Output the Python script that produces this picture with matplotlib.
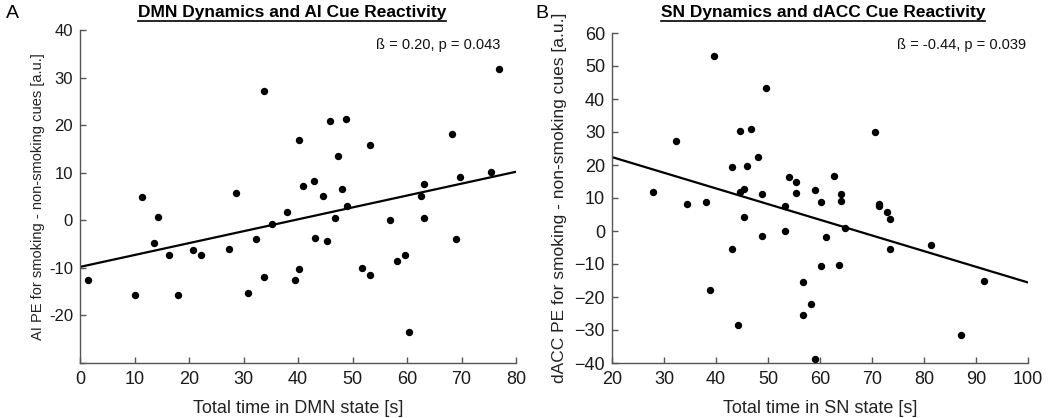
import matplotlib
matplotlib.use("Agg")
import matplotlib.pyplot as plt
from matplotlib.lines import Line2D
import numpy as np

plt.rcParams['font.family'] = ['Liberation Sans', 'DejaVu Sans']

# ---------------- data ----------------
dmn_time = [1.4, 10.0, 11.3, 13.6, 14.3, 16.4, 17.9, 20.7, 22.2, 27.3, 28.7, 30.8,
            32.3, 33.7, 33.7, 35.2, 38.0, 39.5, 40.1, 40.1, 40.9, 43.0, 43.1, 44.5,
            45.3, 45.9, 46.7, 47.4, 48.1, 48.8, 48.9, 51.7, 53.2, 53.2, 56.8, 58.2,
            59.7, 60.4, 62.5, 63.2, 63.2, 68.3, 69.0, 69.7, 75.4, 76.9]
ai_pe = [-12.5, -15.7, 4.8, -4.7, 0.6, -7.4, -15.7, -6.2, -7.2, -6.0, 5.7, -15.2,
         -4.0, -12.0, 27.1, -0.8, 1.7, -12.6, -10.3, 16.8, 7.3, 8.3, -3.8, 5.1,
         -4.3, 20.9, 0.4, 13.6, 6.6, 21.3, 3.1, -10.0, 15.9, -11.5, 0.1, -8.5,
         -7.2, -23.5, 5.1, 7.7, 0.5, 18.2, -4.0, 9.1, 10.2, 31.8]

sn_time = [27.9, 32.3, 34.5, 38.1, 38.8, 39.6, 43.1, 43.1, 44.2, 44.6, 44.6, 45.3,
           45.3, 46.0, 46.7, 48.1, 48.9, 48.9, 49.6, 53.3, 53.3, 54.0, 55.4, 55.4,
           56.8, 56.8, 58.3, 59.0, 59.0, 60.2, 60.2, 61.2, 62.6, 63.7, 64.0, 64.0,
           64.9, 70.6, 71.3, 71.3, 72.8, 73.5, 73.5, 81.4, 87.2, 91.5]
dacc_pe = [11.8, 27.4, 8.2, 8.7, -18.0, 52.9, 19.3, -5.5, -28.5, 30.2, 11.8, 12.8,
           4.1, 19.8, 30.8, 22.5, 11.1, -1.6, 43.2, 7.6, -0.1, 16.3, 14.7, 11.6,
           -15.5, -25.6, -22.2, 12.5, -38.7, 8.9, -10.7, -1.8, 16.7, -10.2, 11.2, 9.2,
           1.0, 30.0, 8.2, 7.6, 5.9, 3.6, -5.5, -4.2, -31.4, -15.2]

# regression lines: (intercept, slope)
fit_a = (-9.8, 0.25)
fit_b = (31.9, -0.475)

titles = ["DMN Dynamics and AI Cue Reactivity", "SN Dynamics and dACC Cue Reactivity"]
stats = ["ß = 0.20, p = 0.043", "ß = -0.44, p = 0.039"]
xlabels = ["Total time in DMN state [s]", "Total time in SN state [s]"]
ylabels = ["AI PE for smoking - non-smoking cues [a.u.]",
           "dACC PE for smoking - non-smoking cues [a.u.]"]
panel_letters = ["A", "B"]

# ---------------- figure ----------------
W, H = 1050, 418
fig = plt.figure(figsize=(W / 100, H / 100), dpi=100)

def px_axes(x0, y0, x1, y1):
    return fig.add_axes([x0 / W, 1 - y1 / H, (x1 - x0) / W, (y1 - y0) / H])

axA = px_axes(80, 30, 516, 363)
axB = px_axes(612, 33, 1028, 363)

spine_col = '#555555'

def style(ax, xlim, ylim, xticks, yticks, ysize):
    ax.set_xlim(*xlim)
    ax.set_ylim(*ylim)
    ax.set_xticks(xticks)
    ax.set_yticks(yticks)
    for s in ['top', 'right']:
        ax.spines[s].set_visible(False)
    for s in ['left', 'bottom']:
        ax.spines[s].set_color(spine_col)
        ax.spines[s].set_linewidth(1.0)
    ax.tick_params(direction='in', length=4, width=1.0, color=spine_col,
                   labelcolor='#1a1a1a')
    ax.tick_params(axis='x', labelsize=13, pad=5.5)
    ax.tick_params(axis='y', labelsize=ysize, pad=5)

style(axA, (0, 80), (-30, 40), np.arange(0, 81, 10), np.arange(-30, 41, 10), 12)
axA.set_yticklabels([''] + [str(v) for v in range(-20, 41, 10)])
style(axB, (20, 100), (-40, 60), np.arange(20, 101, 10), np.arange(-40, 61, 10), 13)

for ax, xs, ys, fit in [(axA, dmn_time, ai_pe, fit_a), (axB, sn_time, dacc_pe, fit_b)]:
    ax.plot(xs, ys, 'o', color='black', markersize=4.3, zorder=3, clip_on=False)
    xl = np.array(ax.get_xlim())
    ax.plot(xl, fit[0] + fit[1] * xl, '-', color='black', linewidth=1.6, zorder=2)

axA.set_xlabel(xlabels[0], fontsize=13, color='#222222', labelpad=9)
axB.set_xlabel(xlabels[1], fontsize=13, color='#222222', labelpad=9)
axA.set_ylabel(ylabels[0], fontsize=10.5, color='#222222', labelpad=3)
axB.set_ylabel(ylabels[1], fontsize=12.5, color='#222222', labelpad=5)

# stats text
fig.text(500 / W, 1 - 45 / H, stats[0], ha='right', va='center', fontsize=10.5, color='#111111')
fig.text(1026 / W, 1 - 45 / H, stats[1], ha='right', va='center', fontsize=10.5, color='#111111')

# panel letters
fig.text(6 / W, 1 - 13 / H, panel_letters[0], ha='left', va='center', fontsize=14)
fig.text(535 / W, 1 - 13 / H, panel_letters[1], ha='left', va='center', fontsize=14)

# titles with underline
tA = fig.text(292 / W, 1 - 12 / H, titles[0], ha='center', va='center',
              fontsize=12.5, fontweight='bold')
tB = fig.text(823 / W, 1 - 12 / H, titles[1], ha='center', va='center',
              fontsize=12.5, fontweight='bold')
fig.canvas.draw()
r = fig.canvas.get_renderer()
for t in (tA, tB):
    bb = t.get_window_extent(r)
    ypix = H - 20.5
    fig.add_artist(Line2D([bb.x0 / W, bb.x1 / W], [ypix / H, ypix / H],
                          transform=fig.transFigure, color='black', linewidth=1.2))

fig.savefig('out.png', dpi=100)
